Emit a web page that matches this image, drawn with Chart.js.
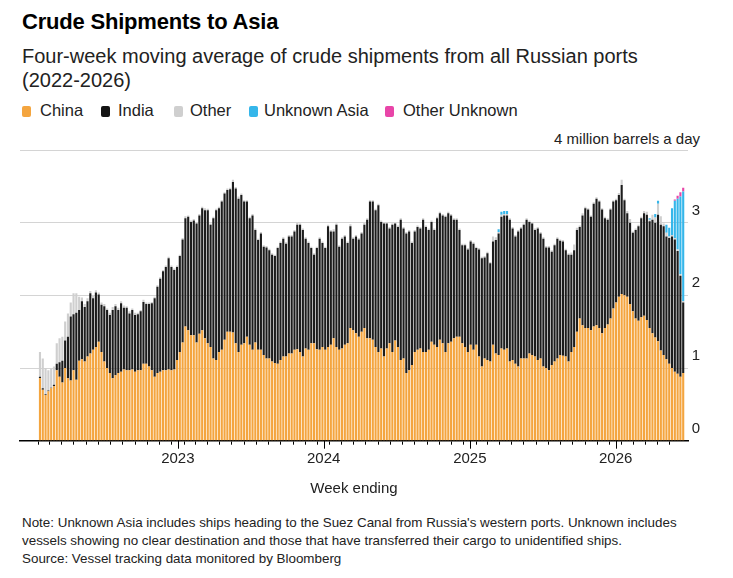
<!DOCTYPE html>
<html>
<head>
<meta charset="utf-8">
<script src="https://cdn.jsdelivr.net/npm/chart.js@4.4.1/dist/chart.umd.min.js"></script>
<style>
  html, body { margin: 0; padding: 0; background: #fff; }
  body { width: 733px; height: 578px; position: relative; overflow: hidden;
         font-family: "Liberation Sans", Arial, sans-serif; color: #222; }
  .title { position: absolute; left: 22px; top: 11px; font-size: 22px; line-height: 22px;
           font-weight: bold; color: #000; letter-spacing: -0.2px; }
  .sub { position: absolute; left: 22px; top: 44px; font-size: 20px; line-height: 24px; color: #222; }
  .leg { position: absolute; top: 102px; font-size: 16.5px; line-height: 17px; color: #222; }
  .sq { position: absolute; top: 106px; width: 9px; height: 11px; border-radius: 2px; }
  .unit { position: absolute; right: 33px; top: 131px; font-size: 15px; line-height: 15px; color: #222; }
  .note { position: absolute; left: 22px; top: 514px; font-size: 13.4px; line-height: 18px; color: #222; }
  #wrap { position: absolute; left: 0; top: 120px; width: 733px; height: 385px; }
</style>
</head>
<body>
<div class="title">Crude Shipments to Asia</div>
<div class="sub">Four-week moving average of crude shipments from all Russian ports<br>(2022-2026)</div>

<div class="sq" style="left:22px;background:#f4a53f"></div><div class="leg" style="left:40px">China</div>
<div class="sq" style="left:101px;background:#141414"></div><div class="leg" style="left:118px">India</div>
<div class="sq" style="left:174px;background:#cfcfcf"></div><div class="leg" style="left:190px">Other</div>
<div class="sq" style="left:249px;background:#35b6ea"></div><div class="leg" style="left:264px">Unknown Asia</div>
<div class="sq" style="left:385px;background:#e845a8"></div><div class="leg" style="left:403px">Other Unknown</div>

<div class="unit">4 million barrels a day</div>

<div id="wrap"><canvas id="grafico" width="733" height="385"></canvas></div>

<div class="note">Note: Unknown Asia includes ships heading to the Suez Canal from Russia's western ports. Unknown includes<br>vessels showing no clear destination and those that have transferred their cargo to unidentified ships.<br>Source: Vessel tracking data monitored by Bloomberg</div>

<script>
// Dados (milhões de barris por dia), uma entrada por semana
const china = [
  .86,.70,.63,.68,.72,.75,.97,.88,.80,1.00, .86,.83,.97,.84,1.10,1.12,1.09,1.16,1.20,1.25,
  1.29,1.36,1.22,1.09,1.00,.93,.86,.90,.93,.95, .98,.97,.97,.98,.95,.97,.97,1.06,1.06,1.02,
  .97,.88,.93,.95,.97,.97,.98,.97,.98,1.11, 1.22,1.35,1.57,1.52,1.45,1.45,1.35,1.47,1.52,1.41,
  1.34,1.29,1.13,1.11,1.22,1.25,1.39,1.50,1.50,1.49, 1.34,1.22,1.32,1.34,1.43,1.32,1.25,1.35,1.25,1.25,
  1.18,1.13,1.13,1.09,1.07,1.06,1.11,1.16,1.16,1.20, 1.20,1.25,1.26,1.22,1.16,1.27,1.25,1.34,1.34,1.26,
  1.25,1.29,1.25,1.29,1.32,1.41,1.29,1.25,1.27,1.32, 1.34,1.55,1.52,1.48,1.43,1.50,1.55,1.41,1.41,1.39,
  1.29,1.22,1.27,1.16,1.27,1.34,1.22,1.38,1.29,1.11, 1.13,.93,.97,1.04,1.22,1.25,1.27,1.22,1.22,1.25,
  1.36,1.32,1.29,1.39,1.34,1.22,1.34,1.36,1.41,1.43, 1.43,1.34,1.29,1.22,1.32,1.25,1.32,1.16,1.02,1.13,
  1.11,1.09,1.32,1.20,1.18,1.27,1.25,1.27,1.09,1.11, 1.06,1.02,1.13,1.13,1.13,1.20,1.18,1.16,1.11,1.13,
  1.02,1.00,.97,1.04,1.09,1.13,1.18,1.17,1.16,1.09, 1.22,1.29,1.50,1.68,1.59,1.55,1.55,1.52,1.57,1.59,
  1.55,1.48,1.55,1.60,1.68,1.82,1.90,1.98,2.02,2.00, 1.98,1.88,1.78,1.68,1.65,1.70,1.72,1.66,1.55,1.48,
  1.42,1.37,1.24,1.18,1.12,1.06,1.00,.95,.92,.88, .93
];
const india = [
  .02,.02,.01,.01,.01,.02,.09,.20,.30,.38, .57,.88,.77,.92,.70,.80,.75,.76,.83,.71,
  .75,.65,.65,.76,.80,.80,.94,.95,.87,.94, .85,.86,.78,.82,.78,.77,.81,.85,.82,.86,
  .92,1.08,1.19,1.28,1.36,1.42,1.53,1.42,1.37,1.28, 1.32,1.42,1.49,1.56,1.56,1.58,1.64,1.63,1.68,1.76,
  1.83,1.68,1.93,2.06,1.98,2.04,2.01,1.95,1.96,2.07, 2.13,2.11,2.06,1.95,1.86,1.74,1.85,1.55,1.51,1.60,
  1.49,1.53,1.49,1.47,1.47,1.59,1.61,1.62,1.55,1.61, 1.61,1.63,1.71,1.75,1.74,1.51,1.47,1.31,1.22,1.39,
  1.53,1.43,1.40,1.66,1.56,1.47,1.68,1.42,1.51,1.49, 1.38,1.40,1.26,1.33,1.34,1.35,1.42,1.63,1.88,1.90,
  1.88,2.02,1.74,1.83,1.72,1.58,1.75,1.61,1.65,1.93, 1.79,1.92,1.91,1.68,1.66,1.69,1.65,1.82,1.72,1.65,
  1.65,1.58,1.77,1.74,1.76,1.86,1.79,1.74,1.63,1.61, 1.47,1.35,1.40,1.41,1.42,1.46,1.33,1.47,1.49,1.39,
  1.47,1.35,1.42,1.56,1.67,1.81,1.85,1.83,1.95,1.81, 1.75,1.86,1.79,1.84,1.91,1.81,1.81,1.74,1.81,1.72,
  1.76,1.66,1.69,1.56,1.60,1.65,1.57,1.57,1.46,1.47, 1.34,1.33,1.40,1.26,1.51,1.65,1.63,1.56,1.69,1.74,
  1.74,1.70,1.51,1.44,1.50,1.47,1.41,1.40,1.50,1.31, 1.15,1.12,1.08,1.22,1.30,1.36,1.41,1.45,1.47,1.56,
  1.58,1.74,1.73,1.77,1.69,1.73,1.81,1.82,1.69,1.39, .97
];
const other = [
  .34,.41,.36,.28,.26,.25,.28,.33,.33,.26, .32,.19,.29,.27,.18,.05,.04,.04,.03,.03,
  .03,.03,.03,.03,.02,.03,.04,.03,.03,.03, .03,.02,.03,.02,.03,.02,.02,.03,.02,.02,
  .02,.02,.02,.02,.02,.02,.02,.02,.02,.02, .02,.02,.03,.02,.02,.02,.02,.02,.02,.03,
  .02,.02,.02,.02,.02,.02,.02,.02,.02,.03, .02,.03,.02,.02,.02,.02,.02,.02,.02,.02,
  .02,.02,.02,.02,.02,.02,.02,.02,.02,.02, .02,.02,.03,.02,.02,.02,.02,.02,.02,.02,
  .02,.02,.02,.02,.02,.03,.02,.02,.02,.02, .02,.03,.02,.02,.02,.02,.03,.02,.02,.02,
  .02,.02,.02,.02,.02,.02,.02,.02,.02,.02, .02,.02,.02,.02,.02,.02,.02,.02,.02,.02,
  .02,.02,.02,.02,.02,.02,.02,.02,.02,.02, .02,.02,.02,.02,.02,.02,.02,.02,.02,.02,
  .02,.02,.07,.04,.02,.03,.02,.02,.02,.02, .02,.02,.02,.02,.02,.02,.02,.02,.02,.02,
  .02,.02,.02,.02,.02,.02,.02,.02,.02,.02, .03,.08,.03,.02,.03,.02,.02,.02,.02,.02,
  .02,.02,.02,.02,.02,.02,.02,.03,.07,.02, .03,.05,.02,.02,.02,.02,.03,.04,.02,.07,
  .07,.15,.12,.04,.05,.02,.02,.02,.02,.02, .02
];
const unknownAsia = [
  0,0,0,0,0,0,0,0,0,0, 0,0,0,0,0,0,0,0,0,0, 0,0,0,0,0,0,0,0,0,0, 0,0,0,0,0,0,0,0,0,0,
  0,0,0,0,0,0,0,0,0,0, 0,0,0,0,0,0,0,0,0,0, 0,0,0,0,0,0,0,0,0,0, 0,0,0,0,0,0,0,0,0,0,
  0,0,0,0,0,0,0,0,0,0, 0,0,0,0,0,0,0,0,0,0, 0,0,0,0,0,0,0,0,0,0, 0,0,0,0,0,0,0,0,0,0,
  0,0,0,0,0,0,0,0,0,0, 0,0,0,0,0,0,0,0,0,0, 0,0,0,0,0,0,0,0,0,0, 0,0,0,0,0,0,0,0,0,0,
  0,0,0,0,.04,.04,.04,.04,0,0, 0,0,0,0,0,0,0,0,0,0, 0,0,0,0,0,0,0,0,0,0, 0,0,0,0,0,0,0,0,0,0,
  0,0,0,0,0,0,0,0,0,0, 0,0,0,0,0,0,0,0,.02,0,
  .05,.04,0,0,.11,.12,.37,.51,.70,1.07, 1.51
];
const otherUnknown = [
  0,0,0,0,0,0,0,0,0,0, 0,0,0,0,0,0,0,0,0,0, 0,0,0,0,0,0,0,0,0,0, 0,0,0,0,0,0,0,0,0,0,
  0,0,0,0,0,0,0,0,0,0, 0,0,0,0,0,0,0,0,0,0, 0,0,0,0,0,0,0,0,0,0, 0,0,0,0,0,0,0,0,0,0,
  0,0,0,0,0,0,0,0,0,0, 0,0,0,0,0,0,0,0,0,0, 0,0,0,0,0,0,0,0,0,0, 0,0,0,0,0,0,0,0,0,0,
  0,0,0,0,0,0,0,0,0,0, 0,0,0,0,0,0,0,0,0,0, 0,0,0,0,0,0,0,0,0,0, 0,0,0,0,0,0,0,0,0,0,
  0,0,0,0,0,0,0,0,0,0, 0,0,0,0,0,0,0,0,0,0, 0,0,0,0,0,0,0,0,0,0, 0,0,0,0,0,0,0,0,0,0,
  0,0,0,0,0,0,0,0,0,0, 0,0,0,0,0,0,0,0,0,0,
  0,0,0,0,0,0,0,.02,.04,.06, .05
];
const years = [2023, 2024, 2025, 2026];
const yTicks = [0, 1, 2, 3, 4];

// semanas (data de fim de semana)
const DIA = 864e5;
const inicio = Date.UTC(2022, 0, 21);
const semanas = china.map((_, i) => inicio + i * 7 * DIA);

// marcas mensais do eixo x (fev/2022 até mai/2026)
const meses = [];
for (let m = 1; m <= 52; m++) meses.push(Date.UTC(2022, m, 1));

const serie = arr => arr.map((v, i) => ({ x: semanas[i], y: v }));

Chart.defaults.font.family = '"Liberation Sans", Arial, sans-serif';
Chart.defaults.color = '#222';

// marca do ano um pouco mais longa
const marcaAno = {
  id: 'marcaAno',
  afterDraw(chart) {
    const { ctx, scales: { x }, chartArea } = chart;
    ctx.save();
    ctx.strokeStyle = '#000';
    ctx.lineWidth = 1;
    x.ticks.forEach(t => {
      if (new Date(t.value).getUTCMonth() !== 0) return;
      const px = Math.round(x.getPixelForValue(t.value)) + 0.5;
      ctx.beginPath();
      ctx.moveTo(px, chartArea.bottom);
      ctx.lineTo(px, chartArea.bottom + 8);
      ctx.stroke();
    });
    ctx.restore();
  }
};

const barra = { borderWidth: 0, barPercentage: 0.76, categoryPercentage: 1 };

new Chart(document.getElementById('grafico').getContext('2d'), {
  type: 'bar',
  data: {
    datasets: [
      { label: 'China', data: serie(china), backgroundColor: '#f4a53f', ...barra },
      { label: 'India', data: serie(india), backgroundColor: '#1c1c1c', ...barra },
      { label: 'Other', data: serie(other), backgroundColor: '#cfcfcf', ...barra },
      { label: 'Unknown Asia', data: serie(unknownAsia), backgroundColor: '#35b6ea', ...barra },
      { label: 'Other Unknown', data: serie(otherUnknown), backgroundColor: '#e845a8', ...barra }
    ]
  },
  options: {
    responsive: false,
    animation: false,
    layout: { padding: { left: 20, right: 33, top: 30, bottom: 0 } },
    plugins: { legend: { display: false }, tooltip: { enabled: false } },
    scales: {
      x: {
        type: 'linear',
        stacked: true,
        offset: false,
        min: Date.UTC(2021, 11, 2),
        max: Date.UTC(2026, 6, 1),
        afterBuildTicks: s => { s.ticks = meses.map(v => ({ value: v })); },
        afterFit: s => { s.height = 64.3; },
        grid: { drawOnChartArea: false, drawTicks: true, tickLength: 4, tickColor: '#000', tickWidth: 1 },
        border: { display: true, color: '#000', width: 1.5 },
        ticks: {
          autoSkip: false, maxRotation: 0, padding: 5, font: { size: 15 }, color: '#222',
          callback: v => {
            const d = new Date(v);
            return d.getUTCMonth() === 0 && years.includes(d.getUTCFullYear()) ? String(d.getUTCFullYear()) : '';
          }
        },
        title: { display: true, text: 'Week ending', font: { size: 15 }, color: '#222', padding: { top: 0, bottom: 7 } }
      },
      y: {
        position: 'right',
        stacked: true,
        min: 0,
        max: 4,
        afterBuildTicks: s => { s.ticks = yTicks.map(v => ({ value: v })); },
        afterFit: s => { s.width = 12; },
        grid: { drawTicks: false, color: c => c.tick && c.tick.value === 0 ? 'rgba(0,0,0,0)' : '#d4d4d4', lineWidth: 1 },
        border: { display: false },
        ticks: {
          padding: 0, crossAlign: 'far', labelOffset: -12, font: { size: 15 }, color: '#222',
          callback: v => v === 4 ? '' : String(v)
        }
      }
    }
  },
  plugins: [marcaAno]
});
</script>
</body>
</html>
